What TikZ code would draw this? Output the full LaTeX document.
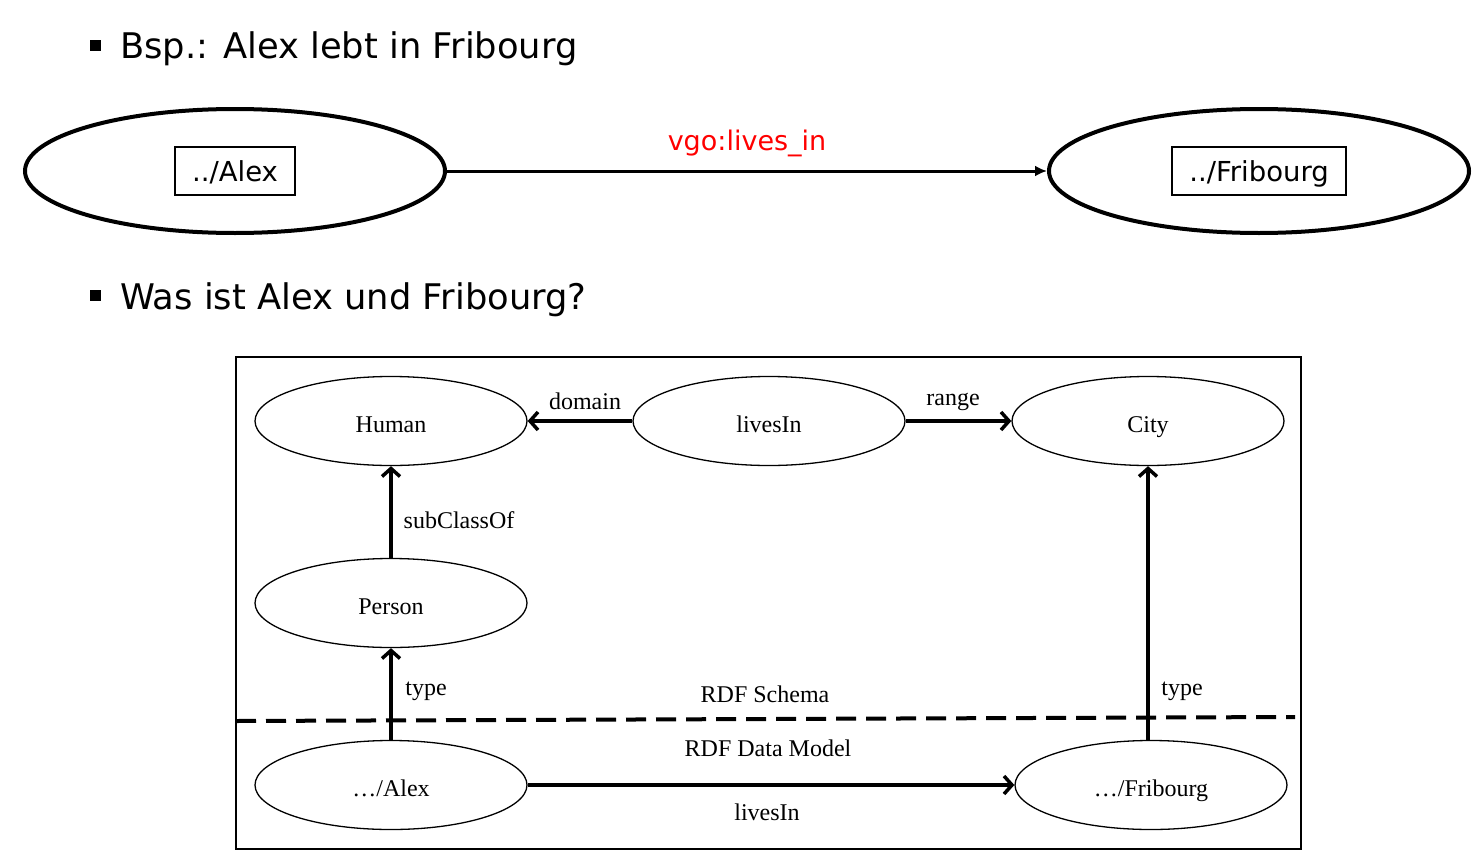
\documentclass[tikz,border=0pt]{standalone}
\usepackage{fontspec}
\setmainfont{Liberation Serif}
\newfontfamily\verd{DejaVu Sans}
\usetikzlibrary{shapes.geometric,arrows.meta}
\begin{document}
\begin{tikzpicture}[x=1pt,y=-1pt,
  bigell/.style={draw,ellipse,line width=4pt,minimum width=420pt,minimum height=124pt,inner sep=0pt},
  urlbox/.style={draw,line width=1.2pt,minimum height=48pt,inner sep=0pt,text height=20pt,text depth=0pt,font=\verd\fontsize{27.5}{31}\selectfont},
  smell/.style={draw,ellipse,line width=1.3pt,minimum width=272pt,minimum height=89pt,inner sep=0pt,text height=22pt,text depth=0pt,font=\fontsize{24}{28}\selectfont},
  lbl/.style={font=\fontsize{24}{28}\selectfont,inner sep=0pt},
  heading/.style={font=\verd\fontsize{35.3}{40}\selectfont,inner sep=0pt,anchor=base west},
  bul/.style={fill=black,minimum size=11pt,inner sep=0pt},
  rdfarr/.style={line width=3.5pt,-{Straight Barb[length=8pt,width=18pt]}}
]
\useasboundingbox (0,0) rectangle (1482,867);
% headings
\node[bul] (b1) at (95.5,45.5) {};
\node[heading] (h1) at (120,59) {Bsp.: Alex lebt in Fribourg};
\node[bul] (b2) at (95.5,295.5) {};
\node[heading] (h2) at (120,309) {Was ist Alex und Fribourg?};
% top example
\node[bigell] (ealex) at (235,171) {};
\node[urlbox,minimum width=120pt] (alex) at (235,171) {../Alex};
\node[bigell] (efrib) at (1259,171) {};
\node[urlbox,minimum width=174pt] (frib) at (1259,171) {../Fribourg};
\draw[line width=3pt,-{Latex[length=12pt,width=11pt]}] (ealex) -- (efrib)
  node[midway,above=13pt,text=red,font=\verd\fontsize{27}{31}\selectfont,inner sep=0pt] (vgo) {vgo:lives\_in};
% lower diagram
\node[draw,line width=1.3pt,minimum width=1065pt,minimum height=492pt,inner sep=0pt] (frame) at (768.5,603) {};
\node[smell] (human) at (391,421) {Human};
\node[smell] (lives) at (769,421) {livesIn};
\node[smell] (city) at (1148,421) {City};
\node[smell] (person) at (391,603) {Person};
\node[smell] (ralex) at (391,785) {\dots/Alex};
\node[smell] (rfrib) at (1151,785) {\dots/Fribourg};
\coordinate (dl) at (236,721);
\coordinate (dr) at (1295,717);
\draw[line width=4pt,dash pattern=on 20pt off 10pt] (dl) -- (dr);
\draw[rdfarr] (lives) -- (human);
\draw[rdfarr] (lives) -- (city);
\draw[rdfarr] (person) -- (human);
\draw[rdfarr] (ralex) -- (person);
\draw[rdfarr] (rfrib.north -| city.south) -- (city.south);
\draw[rdfarr] (ralex) -- (rfrib);
\node[lbl] (ldom) at (585,401) {domain};
\node[lbl] (lrange) at (953,402) {range};
\node[lbl] (lsub) at (459,520) {subClassOf};
\node[lbl] (ltype1) at (426,691) {type};
\node[lbl] (ltype2) at (1182,691) {type};
\node[lbl] (lschema) at (765,694) {RDF Schema};
\node[lbl] (ldata) at (768,748) {RDF Data Model};
\node[lbl] (llives) at (767,812) {livesIn};
\end{tikzpicture}
\end{document}
